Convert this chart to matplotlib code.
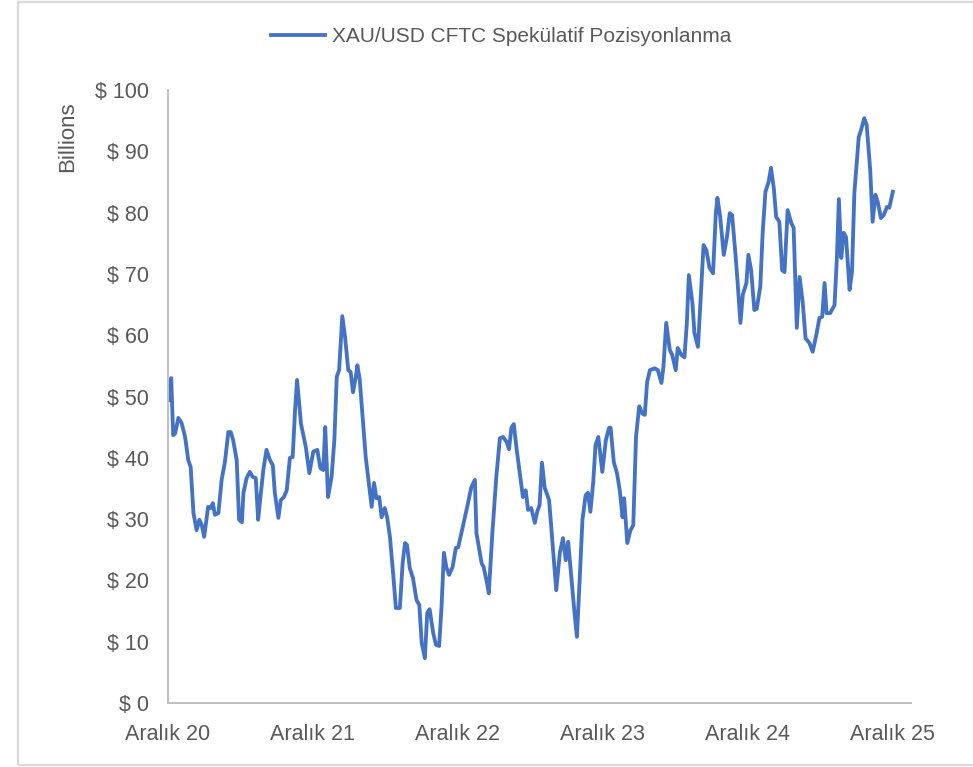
import numpy as np
import pandas as pd
import matplotlib
matplotlib.use("Agg")
import matplotlib.pyplot as plt
from matplotlib.patches import Rectangle

plt.rcParams['font.family'] = ['Liberation Sans', 'DejaVu Sans']

# days since 2020-12-01 and value (billion USD)
start = pd.Timestamp("2020-12-01")
days = [1, 8, 13, 18, 26, 34, 43, 51, 57, 64, 72, 79, 85, 91, 101, 107, 113, 118, 127, 135,
        143, 152, 158, 164, 173, 179, 186, 190, 198, 206, 213, 221, 227, 232, 240, 248, 257, 264, 269, 278,
        284, 292, 299, 307, 314, 320, 325, 335, 347, 356, 366, 376, 384, 391, 396, 403, 412, 419, 425, 431,
        439, 446, 454, 460, 466, 473, 477, 483, 492, 498, 504, 513, 519, 525, 532, 538, 546, 552, 559, 567,
        574, 584, 591, 597, 602, 609, 617, 626, 633, 639, 647, 653, 659, 668, 675, 683, 689, 695, 701, 708,
        717, 725, 731, 739, 752, 764, 773, 777, 790, 795, 802, 808, 817, 827, 836, 844, 853, 859, 865, 871,
        878, 886, 894, 901, 907, 915, 924, 930, 936, 942, 949, 960, 968, 978, 987, 995, 1002, 1008, 1019, 1024,
        1030, 1037, 1044, 1052, 1058, 1064, 1071, 1077, 1084, 1094, 1103, 1111, 1115, 1123, 1131, 1138, 1145, 1149, 1157, 1165,
        1172, 1179, 1187, 1195, 1201, 1207, 1214, 1226, 1234, 1243, 1248, 1255, 1264, 1270, 1279, 1284, 1293, 1301, 1307, 1312,
        1321, 1326, 1335, 1342, 1349, 1356, 1364, 1373, 1380, 1384, 1391, 1400, 1408, 1415, 1421, 1430, 1435, 1442, 1448, 1457,
        1462, 1469, 1477, 1483, 1492, 1498, 1505, 1513, 1519, 1526, 1532, 1540, 1547, 1553, 1561, 1570, 1576, 1584, 1591, 1599,
        1606, 1616, 1624, 1633, 1641, 1648, 1654, 1659, 1668, 1679, 1685, 1690, 1696, 1702, 1708, 1717, 1723, 1729, 1740, 1746,
        1754, 1760, 1769, 1775, 1782, 1788, 1796, 1803, 1811, 1817, 1826]
values = [49.4, 53.0, 43.7, 44.0, 46.5, 45.7, 43.4, 39.6, 38.5, 31.0, 28.2, 29.9, 29.0, 27.1, 32.0, 31.8, 32.6, 30.7, 31.0, 36.4,
          39.2, 44.2, 44.2, 42.9, 39.6, 29.9, 29.5, 34.3, 36.7, 37.7, 36.9, 36.7, 29.9, 33.1, 38.0, 41.3, 39.6, 38.8, 34.3, 30.2,
          33.1, 33.6, 34.7, 40.0, 40.1, 47.8, 52.7, 45.5, 41.8, 37.5, 41.0, 41.3, 38.3, 38.0, 45.0, 33.6, 36.9, 42.9, 53.2, 54.3,
          63.1, 59.7, 54.3, 54.0, 50.7, 53.2, 55.1, 52.7, 45.0, 40.1, 36.9, 32.0, 35.9, 33.4, 33.6, 30.3, 31.8, 30.3, 27.1, 21.2,
          15.5, 15.5, 22.8, 26.1, 25.8, 22.0, 20.4, 16.8, 16.0, 9.8, 7.3, 14.7, 15.3, 11.4, 9.5, 9.3, 15.7, 24.5, 22.2, 20.9,
          22.2, 25.3, 25.4, 27.7, 31.5, 35.2, 36.4, 27.7, 22.8, 22.2, 20.1, 17.9, 27.7, 36.9, 43.2, 43.4, 42.6, 41.4, 44.9, 45.5,
          41.5, 37.5, 33.6, 34.7, 31.5, 31.8, 29.4, 31.2, 32.3, 39.2, 35.1, 33.1, 26.6, 18.4, 24.5, 26.9, 23.3, 26.3, 18.4, 14.7,
          10.8, 20.1, 29.9, 33.9, 34.3, 31.2, 35.9, 42.1, 43.4, 37.7, 42.9, 44.9, 44.9, 39.3, 37.5, 34.7, 30.3, 33.4, 26.1, 28.2,
          29.0, 43.5, 48.4, 47.2, 47.0, 52.4, 54.3, 54.6, 54.3, 52.2, 54.8, 62.0, 57.6, 56.8, 54.3, 57.9, 56.8, 56.4, 62.0, 69.8,
          65.3, 60.4, 58.1, 66.2, 74.7, 73.9, 71.0, 70.1, 79.9, 82.4, 79.3, 73.1, 76.0, 79.9, 79.6, 72.8, 68.5, 62.0, 66.6, 68.5,
          73.1, 70.6, 64.1, 64.3, 67.9, 76.7, 83.4, 85.0, 87.3, 84.0, 79.3, 78.5, 70.6, 70.3, 80.4, 78.3, 77.5, 61.2, 69.5, 65.3,
          59.5, 58.7, 57.3, 60.0, 62.8, 63.0, 68.5, 63.6, 63.6, 64.9, 72.6, 82.2, 72.6, 76.7, 76.0, 67.4, 70.3, 83.2, 92.3, 93.5,
          95.4, 94.3, 86.9, 78.5, 82.9, 81.7, 79.1, 79.6, 80.9, 80.8, 83.4]

tick_dates = ["2020-12-01", "2021-12-01", "2022-12-01", "2023-12-01", "2024-12-01", "2025-12-01"]
tick_labels = ["Aralık 20", "Aralık 21", "Aralık 22", "Aralık 23", "Aralık 24", "Aralık 25"]
y_ticks = [0, 10, 20, 30, 40, 50, 60, 70, 80, 90, 100]

dates = start + pd.to_timedelta(days, unit="D")
grey = "#595959"

fig = plt.figure(figsize=(9.73, 7.67), dpi=100)
ax = fig.add_axes([0.1727, 0.0834, 0.7633, 0.7993])

ax.plot(dates, values, color="#4472C4", linewidth=2.75, label="XAU/USD CFTC Spekülatif Pozisyonlanma")

ax.set_ylim(0, 100)
ax.set_yticks(y_ticks)
ax.set_yticklabels([f"$ {v}" for v in y_ticks])
ax.set_xlim(pd.Timestamp("2020-12-01"), pd.Timestamp("2026-01-15"))
ax.set_xticks(pd.to_datetime(tick_dates))
ax.set_xticklabels(tick_labels)

ax.tick_params(axis="y", length=0, pad=14, labelsize=15.5, labelcolor=grey)
ax.tick_params(axis="x", length=0, pad=15, labelsize=15.5, labelcolor=grey)
for s in ["top", "right"]:
    ax.spines[s].set_visible(False)
for s in ["left", "bottom"]:
    ax.spines[s].set_color("#BFBFBF")
    ax.spines[s].set_linewidth(1.4)

fig.text(68 / 973, 1 - 137 / 767, "Billions", rotation=90, ha="center", va="center",
         fontsize=16, color=grey)

fig.legend(loc="center", bbox_to_anchor=(501 / 973, 1 - 37 / 767), frameon=False,
           fontsize=15, labelcolor=grey, handlelength=2.6, handletextpad=0.3)

# light chart-area border (right edge runs off the image)
fig.add_artist(Rectangle((17.5 / 973, 2 / 767), 960 / 973, 763 / 767, transform=fig.transFigure,
                         fill=False, edgecolor="#D9D9D9", linewidth=1.6))

fig.savefig("out.png", dpi=100)
